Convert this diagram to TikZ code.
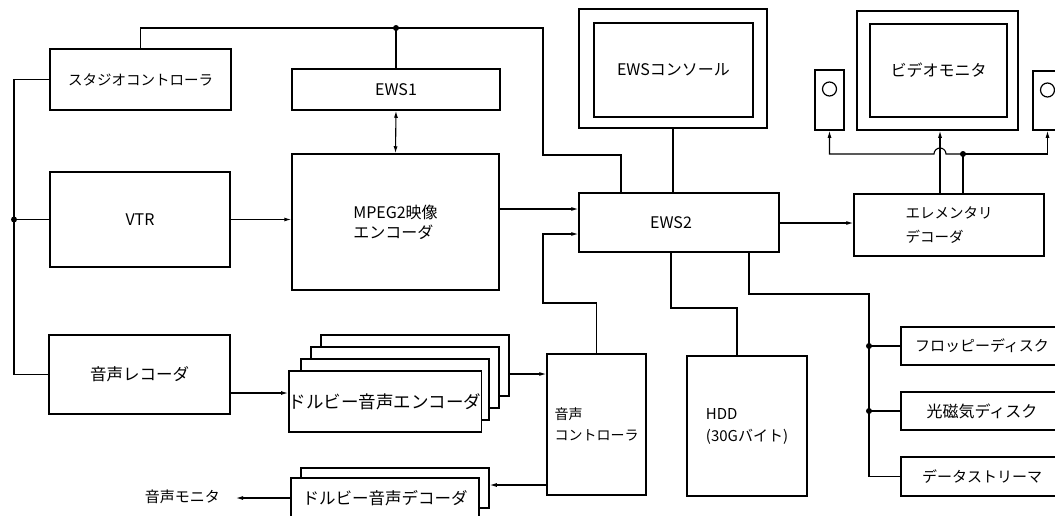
\documentclass[tikz,border=0pt]{standalone}
\usepackage{fontspec}
\setmainfont{Noto Sans CJK JP}
\usetikzlibrary{arrows.meta}
\begin{document}
\begin{tikzpicture}[x=1pt,y=-1pt,
  font=\fontsize{15}{20}\selectfont,
  box/.style={draw,line width=1.5pt,inner sep=0pt,fill=white,align=center},
  wire/.style={line width=1.1pt},
  arr/.style={wire,-{Latex[length=7pt,width=4pt]}},
  darr/.style={wire,{Latex[length=7pt,width=4pt]}-{Latex[length=7pt,width=4pt]}},
  dot/.style={circle,fill,inner sep=0pt,minimum size=6pt},
]
\clip (0,0) rectangle (1055,515);
\fill[white] (0,0) rectangle (1055,515);

% ---- boxes ----
\node[box,minimum width=181pt,minimum height=61pt,font=\fontsize{14.5}{18}\selectfont] (studio) at (140.5,79.5) {スタジオコントローラ};
\node[box,minimum width=208pt,minimum height=41pt,font=\fontsize{16}{18}\selectfont] (ews1) at (396,89.5) {EWS1};
\node[box,minimum width=180pt,minimum height=95pt,font=\fontsize{16}{18}\selectfont] (vtr) at (140,219.5) {VTR};
\node[box,minimum width=207pt,minimum height=136pt,align=left,font=\fontsize{16}{20}\selectfont] (mpeg) at (395.5,222) {MPEG2映像\\エンコーダ};
\node[box,minimum width=181pt,minimum height=79pt,font=\fontsize{16.5}{18}\selectfont] (rec) at (139.5,374.5) {音声レコーダ};

% encoder stack (back to front)
\node[box,minimum width=188pt,minimum height=61pt] (enc4) at (415,365.5) {};
\node[box,minimum width=188pt,minimum height=61pt] (enc3) at (405,377.5) {};
\node[box,minimum width=188pt,minimum height=61pt] (enc2) at (395,389.5) {};
\node[box,minimum width=188pt,minimum height=61pt,font=\fontsize{17.5}{20}\selectfont] (enc1) at (385,401.5) {ドルビー音声エンコーダ};

% decoder stack
\node[box,minimum width=188pt,minimum height=40pt] (dec2) at (395,488) {};
\node[box,minimum width=188pt,minimum height=40pt,font=\fontsize{16.5}{20}\selectfont] (dec1) at (385,498) {ドルビー音声デコーダ};

\node[box,minimum width=99pt,minimum height=141pt,align=left,font=\fontsize{14}{21}\selectfont] (acont) at (596.5,424.5) {音声\\コントローラ};
\node[box,minimum width=120pt,minimum height=140pt,align=left,font=\fontsize{15}{22}\selectfont] (hdd) at (747,426) {HDD\\(30Gバイト)};
\node[box,minimum width=200pt,minimum height=59pt,font=\fontsize{16}{18}\selectfont] (ews2) at (679,222.5) {\hspace*{-16pt}EWS2};

% console
\node[box,minimum width=188pt,minimum height=119pt] (conO) at (673,68.5) {};
\node[box,minimum width=159pt,minimum height=94pt,font=\fontsize{16}{18}\selectfont] (conI) at (673.5,70) {EWSコンソール};

% video monitor and speakers
\node[box,minimum width=161pt,minimum height=119pt] (vmO) at (937.5,70.5) {};
\node[box,minimum width=137pt,minimum height=93pt,font=\fontsize{16}{18}\selectfont] (vmI) at (938.5,70.5) {ビデオモニタ};
\node[box,minimum width=29pt,minimum height=60pt] (spkL) at (829.5,100) {};
\node[box,minimum width=29pt,minimum height=59pt] (spkR) at (1047.5,100.5) {};
\draw[line width=1.2pt] (829.5,89) circle[radius=7pt];
\draw[line width=1.2pt] (1047.5,90) circle[radius=7pt];

\node[box,minimum width=190pt,minimum height=62pt,align=left,font=\fontsize{14.5}{24}\selectfont] (ed) at (949,225) {エレメンタリ\\デコーダ};

% storage
\node[box,minimum width=162pt,minimum height=38pt,font=\fontsize{15}{18}\selectfont] (fd) at (982,346) {フロッピーディスク};
\node[box,minimum width=162pt,minimum height=38pt,font=\fontsize{16}{18}\selectfont] (mo) at (982,411) {光磁気ディスク};
\node[box,minimum width=162pt,minimum height=39pt,font=\fontsize{15}{18}\selectfont] (ds) at (982,476.5) {データストリーマ};

% ---- connectors ----
\coordinate (tb) at (396,28);
\coordinate (tr) at (543,28);
\coordinate (tk) at (543,155);
\coordinate (tc) at (621,155);
\draw[wire] (studio.north) |- (tr) -- (tk) -- (tc) -- (tc |- ews2.north);
\draw[wire] (tb) -- (ews1.north);
\node[dot] at (tb) {};
\draw[darr] (ews1.south) -- (mpeg.north);

\coordinate (lbd) at (14,219.5);
\draw[wire] (studio.west) -| (lbd) |- (rec.west);
\draw[wire] (lbd) -- (vtr.west);
\node[dot] at (lbd) {};

\draw[arr] (vtr.east) -- (vtr.east -| mpeg.west);
\coordinate (m1) at (0,209);
\draw[arr] (m1 -| mpeg.east) -- (m1 -| ews2.west);

\coordinate (cb) at (543,303);
\coordinate (cc) at (543,234);
\draw[arr] (acont.north) |- (cb) -- (cc) -- (cc -| ews2.west);

\coordinate (r1) at (0,393);
\draw[arr] (r1 -| rec.east) -- (r1 -| enc1.west);
\coordinate (e1) at (0,374);
\draw[arr] (e1 -| enc4.east) -- (e1 -| acont.west);
\coordinate (d1) at (0,485);
\draw[arr] (d1 -| acont.west) -- (d1 -| dec2.east);
\coordinate (amon) at (236,498);
\draw[arr] (dec1.west) -- (amon);
\node[anchor=east,inner sep=0pt,font=\fontsize{15}{18}\selectfont] (amonlab) at (220,497) {音声モニタ};

\draw[wire] (conO.south) -- (conO.south |- ews2.north);
\coordinate (e2) at (0,223);
\draw[arr] (e2 -| ews2.east) -- (e2 -| ed.west);

\coordinate (h1) at (671,308);
\coordinate (h2) at (737,308);
\draw[wire] (h1 |- ews2.south) -- (h1) -- (h2) -- (h2 |- hdd.north);

\coordinate (g1) at (749,294);
\coordinate (g2) at (869,294);
\coordinate (g3) at (869,346);
\coordinate (g4) at (869,411);
\draw[wire] (g1 |- ews2.south) -- (g1) -- (g2) |- (ds.west);
\draw[wire] (g3) -- (g3 -| fd.west);
\draw[wire] (g4) -- (g4 -| mo.west);
\node[dot] at (g3) {};
\node[dot] at (g4) {};

\coordinate (v1) at (940,0);
\draw[arr] (v1 |- ed.north) -- (v1 |- vmO.south);
\coordinate (s0) at (963,154);
\coordinate (hop) at (946,154);
\draw[wire] (s0 |- ed.north) -- (s0);
\draw[arr] (s0) -- (hop) arc[start angle=0,end angle=-180,radius=6] -- (spkL.south |- s0) -- (spkL.south);
\draw[arr] (s0) -- (spkR.south |- s0) -- (spkR.south);
\node[dot] at (s0) {};
\end{tikzpicture}
\end{document}
